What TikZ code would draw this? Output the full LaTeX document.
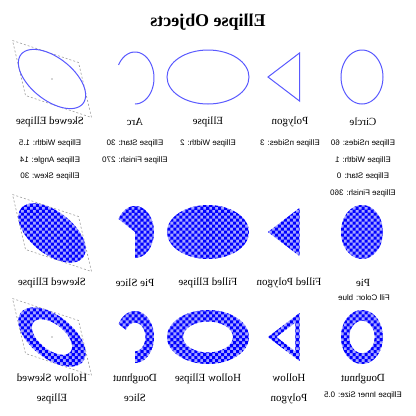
\documentclass[tikz,border=0pt]{standalone}
\usepackage{fontspec}
\setmainfont{Liberation Serif}
\setsansfont{Liberation Sans}
\usepackage{tikz}
\usetikzlibrary{patterns}

\pgfdeclarepatternformonly{bigchecks}{\pgfqpoint{-1pt}{-1pt}}{\pgfqpoint{7pt}{7pt}}{\pgfqpoint{6pt}{6pt}}{%
  \pgfpathrectangle{\pgfqpoint{0pt}{0pt}}{\pgfqpoint{3.05pt}{3.05pt}}%
  \pgfpathrectangle{\pgfqpoint{3pt}{3pt}}{\pgfqpoint{3.05pt}{3.05pt}}%
  \pgfusepath{fill}}

\begin{document}
\begin{tikzpicture}[
    x=1bp, y=-1bp,
    every node/.style={xscale=-1, inner sep=0pt},
    heading/.style={font=\bfseries\fontsize{18}{20}\selectfont},
    caption/.style={font=\fontsize{11}{13}\selectfont, align=center},
    note/.style={font=\sffamily\fontsize{8}{9}\selectfont},
    outline/.style={draw=blue!65, line width=1bp},
    checks/.style={pattern=bigchecks, pattern color=blue, preaction={fill=blue!35}},
    hollow/.style={even odd rule, pattern=bigchecks, pattern color=blue, preaction={fill=blue!35, even odd rule}},
    guide/.style={draw=gray!80, line width=0.6bp, dash pattern=on 2bp off 2bp},
    oval/.style n args={4}{shift={(#1,#2)}, x={(#3bp,0bp)}, y={(0bp,#4bp)}},
    skewbox/.style 2 args={shift={(#1,#2)}, x={(33bp,-11bp)}, y={(6.5bp,-27.5bp)}},
]
\useasboundingbox (0,0) rectangle (416,416);

\node[heading] (title) at (208,22) {Ellipse Objects};

% Outlines
\begin{scope}[skewbox={52}{79}]
  \draw[guide] (-1,-1) -- (1,-1) -- (1,1) -- (-1,1) -- cycle;
  \draw[outline] plot[domain=0:360, samples=73] ({cos(\x)},{sin(\x)}) -- cycle;
  \fill[gray!60!black] (0,0) circle[radius=0.7bp];
\end{scope}
\begin{scope}[oval={135}{78}{19}{26}]
  \draw[outline] plot[domain=-90:150, samples=50] ({cos(\x)},{sin(\x)});
\end{scope}
\draw[outline] (208,77) ellipse[x radius=41bp, y radius=27bp];
\begin{scope}[oval={289}{77}{21}{27.7}]
  \draw[outline] plot[domain=60:420, samples=4] ({cos(\x)},{sin(\x)}) -- cycle;
\end{scope}
\begin{scope}[oval={362}{77}{21}{27}]
  \draw[outline] plot[domain=0:360, samples=61] ({cos(\x)},{sin(\x)}) -- cycle;
\end{scope}

% Filled
\begin{scope}[skewbox={52}{233}]
  \draw[guide] (-1,-1) -- (1,-1) -- (1,1) -- (-1,1) -- cycle;
  \path[checks] plot[domain=0:360, samples=73] ({cos(\x)},{sin(\x)}) -- cycle;
  \fill[gray!60!black] (0,0) circle[radius=0.7bp];
\end{scope}
\begin{scope}[oval={135}{232}{19}{26}]
  \path[checks] (0,0) -- plot[domain=-90:150, samples=50] ({cos(\x)},{sin(\x)}) -- cycle;
\end{scope}
\path[checks] (208,232) ellipse[x radius=41bp, y radius=27bp];
\begin{scope}[oval={289}{232}{21}{27.7}]
  \path[checks] plot[domain=60:420, samples=4] ({cos(\x)},{sin(\x)}) -- cycle;
\end{scope}
\begin{scope}[oval={362}{232}{21}{27}]
  \path[checks] plot[domain=0:360, samples=61] ({cos(\x)},{sin(\x)}) -- cycle;
\end{scope}

% Hollow
\begin{scope}[skewbox={52}{337}]
  \draw[guide] (-1,-1) -- (1,-1) -- (1,1) -- (-1,1) -- cycle;
  \path[hollow] plot[domain=0:360, samples=73] ({cos(\x)},{sin(\x)}) -- cycle
    plot[domain=0:360, samples=73] ({0.6*cos(\x)},{0.6*sin(\x)}) -- cycle;
  \fill[gray!60!black] (0,0) circle[radius=0.7bp];
\end{scope}
\begin{scope}[oval={135}{337}{19}{26}]
  \path[checks] plot[domain=-90:150, samples=50] ({cos(\x)},{sin(\x)})
    -- plot[domain=-90:150, samples=50] ({0.55*cos(60-\x)},{0.55*sin(60-\x)}) -- cycle;
\end{scope}
\path[hollow] (208,337) ellipse[x radius=41bp, y radius=27bp]
  (208,337) ellipse[x radius=25bp, y radius=15.5bp];
\begin{scope}[oval={289}{337}{21}{27.7}]
  \path[hollow] plot[domain=60:420, samples=4] ({cos(\x)},{sin(\x)}) -- cycle
    plot[domain=60:420, samples=4] ({0.6*cos(\x)},{0.6*sin(\x)}) -- cycle;
\end{scope}
\begin{scope}[oval={362}{337}{21}{27}]
  \path[hollow] plot[domain=0:360, samples=61] ({cos(\x)},{sin(\x)}) -- cycle
    plot[domain=0:360, samples=61] ({0.6*cos(\x)},{0.6*sin(\x)}) -- cycle;
\end{scope}

% Captions
\foreach \col/\txt [count=\i] in {50/Skewed Ellipse, 135/Arc, 208/Ellipse, 290/Polygon, 363/Circle}
  \node[caption] (capA\i) at (\col,122) {\txt};
\foreach \col/\txt [count=\i] in {52/Skewed Ellipse, 135/Pie Slice, 208/Filled Ellipse, 289/Filled Polygon, 363/Pie}
  \node[caption] (capB\i) at (\col,283) {\txt};
\foreach \col/\txt [count=\i] in {52/Hollow Skewed\\[7pt]Ellipse, 135/Doughnut\\[7pt]Slice, 208/Hollow Ellipse, 289/Hollow\\[7pt]Polygon, 363/Doughnut}
  \node[caption, anchor=north] (capC\i) at (\col,374) {\txt};

% Settings
\node[note] (skA) at (50,143) {Ellipse Width: 1.5};
\node[note] (skB) at (50,160) {Ellipse Angle: 14};
\node[note] (skC) at (50,176) {Ellipse Skew: 30};
\node[note] (arA) at (135,143) {Ellipse Start: 30};
\node[note] (arB) at (135,160) {Ellipse Finish: 270};
\node[note] (elA) at (208,143) {Ellipse Width: 2};
\node[note] (plA) at (290,143) {Ellipse nSides: 3};
\node[note] (ciA) at (363,143) {Ellipse nSides: 60};
\node[note] (ciB) at (363,160) {Ellipse Width: 1};
\node[note] (ciC) at (363,176) {Ellipse Start: 0};
\node[note] (ciD) at (363,193) {Ellipse Finish: 360};
\node[note] (pie) at (364,298) {Fill Color: blue};
\node[note] (dnt) at (363,395) {Ellipse Inner Size: 0.5};
\end{tikzpicture}
\end{document}
